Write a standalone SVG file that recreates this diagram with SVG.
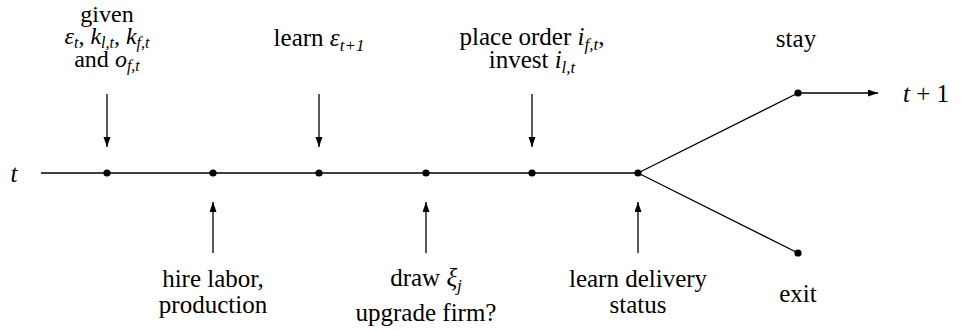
<svg xmlns="http://www.w3.org/2000/svg" width="963" height="330" viewBox="0 0 963 330">
<style>
text{font-family:'Liberation Serif',serif;font-size:25px;fill:#000}
.m{font-style:italic}
.sub{font-style:italic;font-size:17px}
.tight{font-size:24px}
.tight .sub{font-size:16px}
.ln{stroke:#000;stroke-width:1.3;fill:none}
.arr{stroke:#000;stroke-width:1.3;fill:none;marker-end:url(#ah)}
.dot{fill:#000}
</style>
<defs>
<marker id="ah" markerUnits="userSpaceOnUse" markerWidth="12" markerHeight="8" refX="10" refY="3.5" orient="auto">
<path d="M0,0 L10,3.5 L0,7 Z" fill="#000"/>
</marker>
</defs>
<g id="connectors">
<line class="ln" x1="41" y1="173" x2="638" y2="173"/>
<line class="ln" x1="638" y1="173" x2="798" y2="93"/>
<line class="ln" x1="638" y1="173" x2="798" y2="253"/>
<line class="arr" x1="798" y1="93" x2="878" y2="93"/>
<line class="arr" x1="107" y1="94" x2="107" y2="147"/>
<line class="arr" x1="319" y1="94" x2="319" y2="147"/>
<line class="arr" x1="532" y1="94" x2="532" y2="147"/>
<line class="arr" x1="213" y1="253" x2="213" y2="202"/>
<line class="arr" x1="426" y1="253" x2="426" y2="202"/>
<line class="arr" x1="638" y1="253" x2="638" y2="202"/>
</g>
<g id="start"><text class="m" x="14" y="182" text-anchor="middle">t</text></g>
<g id="n1" class="tight">
<circle class="dot" cx="107" cy="173" r="3.6"/>
<text class="tight" x="107" y="22" text-anchor="middle">given</text>
<text class="tight" x="107" y="44" text-anchor="middle"><tspan class="m">ε</tspan><tspan class="sub" dy="4">t</tspan><tspan dy="-4">, </tspan><tspan class="m">k</tspan><tspan class="sub" dy="4">l,t</tspan><tspan dy="-4">, </tspan><tspan class="m">k</tspan><tspan class="sub" dy="4">f,t</tspan></text>
<text class="tight" x="107" y="67" text-anchor="middle">and <tspan class="m">o</tspan><tspan class="sub" dy="4">f,t</tspan></text>
</g>
<g id="n2">
<circle class="dot" cx="213" cy="173" r="3.6"/>
<text x="213" y="287" text-anchor="middle">hire labor,</text>
<text x="213" y="313" text-anchor="middle">production</text>
</g>
<g id="n3">
<circle class="dot" cx="319" cy="173" r="3.6"/>
<text x="319" y="46" text-anchor="middle">learn <tspan class="m">ε</tspan><tspan class="sub" dy="5">t+1</tspan></text>
</g>
<g id="n4">
<circle class="dot" cx="426" cy="173" r="3.6"/>
<text x="426" y="286" text-anchor="middle">draw <tspan class="m">ξ</tspan><tspan class="sub" dy="5">j</tspan></text>
<text x="426" y="321" text-anchor="middle">upgrade firm?</text>
</g>
<g id="n5">
<circle class="dot" cx="532" cy="173" r="3.6"/>
<text x="532" y="45" text-anchor="middle">place order <tspan class="m">i</tspan><tspan class="sub" dy="5">f,t</tspan><tspan dy="-5">,</tspan></text>
<text x="532" y="68" text-anchor="middle">invest <tspan class="m">i</tspan><tspan class="sub" dy="5">l,t</tspan></text>
</g>
<g id="n6">
<circle class="dot" cx="638" cy="173" r="3.6"/>
<text x="638" y="287" text-anchor="middle">learn delivery</text>
<text x="638" y="313" text-anchor="middle">status</text>
</g>
<g id="stay">
<circle class="dot" cx="798" cy="93" r="3.6"/>
<text x="796" y="47" text-anchor="middle">stay</text>
</g>
<g id="exit">
<circle class="dot" cx="798" cy="253" r="3.6"/>
<text x="798" y="302" text-anchor="middle">exit</text>
</g>
<g id="next">
<text x="903" y="102"><tspan class="m">t</tspan> + 1</text>
</g>
</svg>
